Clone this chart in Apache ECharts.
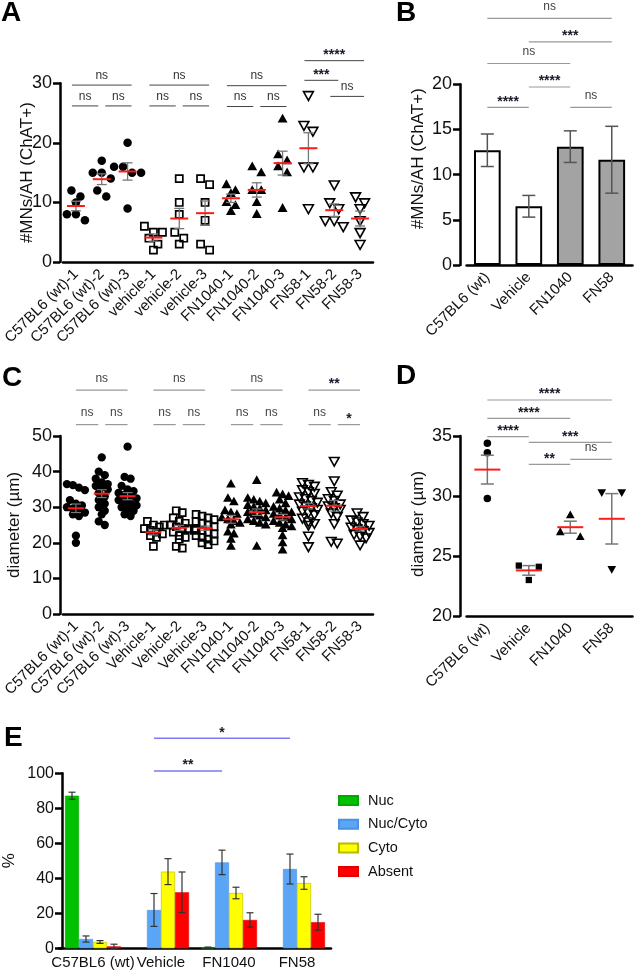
<!DOCTYPE html>
<html><head><meta charset="utf-8">
<script src="https://cdn.jsdelivr.net/npm/echarts@6/dist/echarts.min.js"></script>
<style>html,body{margin:0;padding:0;background:#fff}#c{width:641px;height:975px}</style>
</head><body><div id="c"></div><script>
const FONT = 'Liberation Sans, Arial, Helvetica, sans-serif';

// ---------- Panel A: #MNs/AH per animal ----------
const catA = ['C57BL6 (wt)-1','C57BL6 (wt)-2','C57BL6 (wt)-3','vehicle-1','vehicle-2','vehicle-3','FN1040-1','FN1040-2','FN1040-3','FN58-1','FN58-2','FN58-3'];
const ptsA = [
  [12,11,10,8,8,7],
  [17,15,15,14,12,11],
  [20,16,16,15,15,9],
  [6,5,5,4,3,2],
  [14,10,8,5,4,3],
  [14,13,10,7,3,2],
  [13,12,11.5,10,9.5,8.5],
  [16,15,12,12,10,8],
  [24,18,17,16,15,9],
  [28,23,22,16,16,9],
  [13,10,9,7,7,6],
  [11,10,9,7,5,3]
];
const meanA = [9.4,13.9,15.2,4.1,7.3,8.2,10.7,12.1,16.6,19.1,8.7,7.3];
const semA  = [0.8,0.9,1.45,0.6,1.7,2.05,0.7,1.2,2.0,2.6,1.05,1.25];
const sigA = [
  [0,2,29.7,'ns'],[0,1,26.2,'ns'],[1,2,26.2,'ns'],
  [3,5,29.7,'ns'],[3,4,26.2,'ns'],[4,5,26.2,'ns'],
  [6,8,29.6,'ns'],[6,7,26.1,'ns'],[7,8,26.1,'ns'],
  [9,11,33.8,'****'],[9,10,30.5,'***'],[10,11,27.8,'ns']
];

// ---------- Panel B: #MNs/AH per group ----------
const catB = ['C57BL6 (wt)','Vehicle','FN1040','FN58'];
const valB = [12.7,6.5,13.1,11.65];
const errB = [1.8,1.2,1.75,3.7];
const sigB = [
  [0,3,27.3,'ns'],[1,3,24.7,'***'],[0,2,22.3,'ns'],
  [1,2,19.7,'****'],[0,1,17.45,'****'],[2,3,17.45,'ns']
];

// ---------- Panel C: diameter per animal ----------
const catC = ['C57BL6 (wt)-1','C57BL6 (wt)-2','C57BL6 (wt)-3','Vehicle-1','Vehicle-2','Vehicle-3','FN1040-1','FN1040-2','FN1040-3','FN58-1','FN58-2','FN58-3'];
const ptsC = [
  [36.5,36.2,35.5,34.8,32,31,30.5,30,29.5,29,28.5,28,27.5,22,20],
  [44,40,39,38,37,36.5,36,35.5,35,34,33,32,31,30,29,28,26,25],
  [47,38.5,38,36,35,34.5,34,33.5,33,32.5,32,31.5,31,30.5,30,29.5,29,28,27.5],
  [26,25,24.5,24,23.5,23,22.5,22,21.5,19],
  [29,28.5,27,26,25.5,25,25,24.5,24,24,23.5,23,22,21.5,21,19,18.5],
  [28,27.5,27,26.5,26,25.5,25,24.5,24,23.5,23,22.5,22,21.5,21,20.5,20,19.5],
  [36.5,32.5,31.5,29,28.5,28,27,26.5,26,25.5,25,23,22.5,21,19],
  [37.5,32.5,32,31.5,31,30.5,30,29.5,29,28.5,28,27.5,27,26.5,26,25.5,25,19],
  [34,33.5,33,32,31,30,29.5,29,28.5,28,27.5,27,26.5,26,25.5,25,24.5,24,22,20,18],
  [37,36.5,36,35,34.5,34,33,32.5,32,31.5,31,30.5,30,29.5,29,28.5,28,27,26,25.5,25,22,19],
  [43,37.5,34.5,33.5,32.5,32,31,30.5,30,29.5,28.5,27.5,25.5,20.5,20],
  [28.5,27.5,26.5,26,25.5,25,24.5,24,23.5,23,22.5,22,21.5,19.5]
];
const meanC = [29.7,33.8,33.1,22.9,24.2,24.1,26.6,28.6,27.2,30.3,30.4,23.9];
const semC  = [1.2,1.1,1.0,0.7,0.7,0.6,1.1,0.9,0.8,0.8,1.5,0.6];
const sigC = [
  [0,2,62.9,'ns'],[0,1,53.2,'ns'],[1,2,53.2,'ns'],
  [3,5,62.9,'ns'],[3,4,53.2,'ns'],[4,5,53.2,'ns'],
  [6,8,62.9,'ns'],[6,7,53.2,'ns'],[7,8,53.2,'ns'],
  [9,11,62.9,'**'],[9,10,53.2,'ns'],[10,11,53.2,'*']
];

// ---------- Panel D: diameter per group ----------
const catD = ['C57BL6 (wt)','Vehicle','FN1040','FN58'];
const ptsD = [[34.4,33.6,29.8],[24.2,24.1,23.0],[28.4,27.0,26.6],[30.3,30.3,23.9]];
const meanD = [32.2,23.8,27.4,28.1];
const semD  = [1.2,0.4,0.5,2.1];
const sigD = [
  [0,3,38.0,'****'],[0,2,36.47,'****'],[0,1,34.94,'****'],
  [1,3,34.47,'***'],[2,3,33.06,'ns'],[1,2,32.64,'**']
];

// ---------- Panel E: localisation (%) ----------
const catE = ['C57BL6 (wt)','Vehicle','FN1040','FN58'];
const namesE = ['Nuc','Nuc/Cyto','Cyto','Absent'];
const nucE      = [87.2,0,0.4,0];
const nucCytoE  = [5.3,21.9,49.1,45.3];
const cytoE     = [3.6,43.8,31.6,37.3];
const absentE   = [1.1,32.0,16.2,14.9];
const errNucE     = [2.0,0,0.3,0];
const errNucCytoE = [1.75,9.4,7.0,8.55];
const errCytoE    = [0.8,7.4,3.3,3.6];
const errAbsentE  = [1.25,11.6,4.1,4.55];
const sigE = [[1,2,101.3,'**'],[1,3,120,'*']];

// ================= helpers =================
const BAR_W_E = 14;
function rowOffsets(vals, ppu, rowH, sp) {
  const idx = vals.map((v, i) => i).sort((a, b) => vals[b] - vals[a]);
  const off = new Array(vals.length).fill(0);
  let row = [];
  const flush = () => { row.forEach((i, j) => { off[i] = (j - (row.length - 1) / 2) * sp; }); row = []; };
  idx.forEach(i => {
    if (row.length && (vals[row[0]] - vals[i]) * ppu >= rowH) flush();
    row.push(i);
  });
  flush();
  return off;
}
function shapeEl(shape, cx, cy, o) {
  const s = o.size;
  if (shape === 'circle') return {type:'circle', shape:{cx, cy, r:s/2}, style:{fill:'#000'}};
  if (shape === 'square') {
    const h = s * 0.42;
    return {type:'rect', shape:{x:cx-h, y:cy-h, width:2*h, height:2*h},
      style:o.hollow ? {fill:'rgba(0,0,0,0)', stroke:'#000', lineWidth:1.7} : {fill:'#000'}};
  }
  if (shape === 'up') return {type:'polygon', shape:{points:[[cx,cy-s*0.62],[cx-s*0.58,cy+s*0.42],[cx+s*0.58,cy+s*0.42]]}, style:{fill:'#000'}};
  return {type:'polygon', shape:{points:[[cx,cy+s*0.62],[cx-s*0.58,cy-s*0.42],[cx+s*0.58,cy-s*0.42]]},
    style:o.hollow ? {fill:'rgba(0,0,0,0)', stroke:'#000', lineWidth:1.6, lineJoin:'miter'} : {fill:'#000'}};
}
function swarmSeries(gi, groups, shapes, o) {
  const data = [];
  groups.forEach((vals, g) => vals.forEach((v, k) => data.push([g, v, k])));
  const cache = {};
  return {
    type:'custom', xAxisIndex:gi, yAxisIndex:gi, z:3, silent:true, data, encode:{x:0, y:1},
    renderItem(params, api) {
      const g = api.value(0), v = api.value(1), k = api.value(2);
      const ppu = Math.abs(api.size([0, 1])[1]);
      if (!cache[g]) cache[g] = rowOffsets(groups[g], ppu, o.rowH, o.spacing);
      const p = api.coord([g, v]);
      return shapeEl(shapes[g], p[0] + cache[g][k], p[1], o);
    }
  };
}
function meanSeries(gi, means, sems, o) {
  return {
    type:'custom', xAxisIndex:gi, yAxisIndex:gi, z:5, silent:true,
    data: means.map((m, g) => [g, m, sems[g]]), encode:{x:0, y:1},
    renderItem(params, api) {
      const g = api.value(0), m = api.value(1), s = api.value(2);
      const p = api.coord([g, m]);
      const t = api.coord([g, m + s])[1], b = api.coord([g, m - s])[1];
      const es = {stroke:o.errColor, lineWidth:o.errW};
      const ch = [
        {type:'line', shape:{x1:p[0], y1:t, x2:p[0], y2:b}, style:es},
        {type:'line', shape:{x1:p[0]-o.cap, y1:t, x2:p[0]+o.cap, y2:t}, style:es},
        {type:'line', shape:{x1:p[0]-o.cap, y1:b, x2:p[0]+o.cap, y2:b}, style:es}
      ];
      if (o.half) ch.push({type:'line', shape:{x1:p[0]-o.half, y1:p[1], x2:p[0]+o.half, y2:p[1]}, style:{stroke:'#ff1a1a', lineWidth:o.meanW}});
      return {type:'group', children:ch};
    }
  };
}
function bracketSeries(gi, list, o) {
  return {
    type:'custom', xAxisIndex:gi, yAxisIndex:gi, z:4, silent:true,
    data: list.map(b => [b[0], b[1], b[2]]), encode:{x:[0,1], y:2},
    renderItem(params, api) {
      const b = list[params.dataIndex];
      const p1 = api.coord([b[0], b[2]]), p2 = api.coord([b[1], b[2]]);
      let x1 = p1[0] - o.ext, x2 = p2[0] + o.ext;
      list.forEach(q => {
        if (q === b || Math.abs(q[2] - b[2]) > 1e-9) return;
        if (q[1] === b[0]) x1 = p1[0] + o.gap;
        if (q[0] === b[1]) x2 = p2[0] - o.gap;
      });
      x1 += o.dx || 0; x2 += o.dx || 0;
      const y = p1[1];
      const star = b[3].indexOf('*') >= 0;
      return {type:'group', children:[
        {type:'line', shape:{x1, y1:y, x2, y2:y}, style:{stroke:o.color, lineWidth:o.lw}},
        {type:'text', x:(x1 + x2) / 2, y: y + (star ? o.starDy : o.nsDy),
          style:{text:b[3], fill:star ? '#1a1a2a' : o.textColor,
            font:(star ? 'bold 14px ' : '12px ') + FONT, align:'center', verticalAlign:'bottom'}}
      ]};
    }
  };
}
function catAxis(gi, data, rot, fs, margin) {
  return {type:'category', gridIndex:gi, data, boundaryGap:true,
    axisLine:{onZero:false, lineStyle:{color:'#000', width:2.5}},
    axisTick:{alignWithLabel:true, length:7, lineStyle:{color:'#000', width:2.5}},
    axisLabel:{rotate:rot, fontSize:fs, color:'#111', fontFamily:FONT, margin:margin, interval:0},
    splitLine:{show:false}};
}
function valAxis(gi, min, max, interval, name, gap, offset, fs, pad) {
  return {type:'value', gridIndex:gi, min, max, interval, offset,
    name, nameLocation:'middle', nameGap:gap, nameRotate:90, nameMoveOverlap:false,
    nameTextStyle:{fontSize:17, color:'#111', fontFamily:FONT, padding:pad || 0},
    axisLine:{show:true, lineStyle:{color:'#000', width:2.5}},
    axisTick:{show:true, length:7, lineStyle:{color:'#000', width:2.5}},
    axisLabel:{fontSize:fs, color:'#111', fontFamily:FONT, margin:8},
    splitLine:{show:false}};
}
const gridBase = {containLabel:false, outerBoundsMode:'none'};

const shapes12 = ['circle','circle','circle','square','square','square','up','up','up','down','down','down'];
const shapes4 = ['circle','square','up','down'];

const colorsE = ['#00c000','#5aa5f5','#ffff00','#ff0000'];
const bordersE = ['#00a800','#4a92e0','#b9b900','#e00000'];
const valsE = [nucE, nucCytoE, cytoE, absentE];
const errsE = [errNucE, errNucCytoE, errCytoE, errAbsentE];
const fillB = ['#ffffff','#ffffff','#a3a3a3','#a3a3a3'];

const errDataE = [];
valsE.forEach((arr, s) => arr.forEach((v, c) => { if (errsE[s][c] > 0) errDataE.push([c, s, v, errsE[s][c]]); }));

const option = {
  animation:false,
  backgroundColor:'#fff',
  textStyle:{fontFamily:FONT},
  grid:[
    Object.assign({left:63, top:83.3, width:310, height:178.7}, gridBase),
    Object.assign({left:466.6, top:84.3, width:165.9, height:180.7}, gridBase),
    Object.assign({left:63, top:436, width:310, height:178}, gridBase),
    Object.assign({left:466.6, top:436, width:165.9, height:180}, gridBase),
    Object.assign({left:59, top:773.3, width:272, height:175}, gridBase)
  ],
  xAxis:[
    catAxis(0, catA, 45, 15, 10),
    catAxis(1, catB, 45, 15, 10),
    catAxis(2, catC, 45, 15, 10),
    catAxis(3, catD, 45, 15, 10),
    catAxis(4, catE, 0, 15, 7)
  ],
  yAxis:[
    valAxis(0, 0, 30, 10, '#MNs/AH (ChAT+)', 24, 3, 18),
    valAxis(1, 0, 20, 5, '#MNs/AH (ChAT+)', 33, 6.6, 18, [0,0,0,32]),
    valAxis(2, 0, 50, 10, 'diameter (µm)', 37, 3, 18),
    valAxis(3, 20, 35, 5, 'diameter (µm)', 33, 6.6, 18, [0,0,0,4]),
    valAxis(4, 0, 100, 20, '%', 44, -3, 16)
  ],
  legend:{data:namesE, orient:'vertical', left:333, top:788, itemWidth:19, itemHeight:9, itemGap:8.7,
    icon:'rect', selectedMode:false,
    textStyle:{fontSize:14.5, color:'#111', fontFamily:FONT, padding:[0,0,0,5]}},
  graphic:[
    {type:'text', left:1, top:-1, style:{text:'A', font:'bold 28px ' + FONT, fill:'#000'}},
    {type:'text', left:396, top:-1, style:{text:'B', font:'bold 28px ' + FONT, fill:'#000'}},
    {type:'text', left:2, top:364, style:{text:'C', font:'bold 28px ' + FONT, fill:'#000'}},
    {type:'text', left:396, top:362, style:{text:'D', font:'bold 28px ' + FONT, fill:'#000'}},
    {type:'text', left:4, top:724, style:{text:'E', font:'bold 28px ' + FONT, fill:'#000'}}
  ],
  series:[
    // A
    swarmSeries(0, ptsA, shapes12, {size:8.5, rowH:6.5, spacing:9, hollow:true}),
    meanSeries(0, meanA, semA, {errColor:'#777', errW:1.3, cap:5, half:9, meanW:2}),
    bracketSeries(0, sigA, {ext:4, gap:3.5, color:'#444', lw:1, textColor:'#333', nsDy:-3.5, starDy:1.5}),
    // B
    {type:'bar', xAxisIndex:1, yAxisIndex:1, barWidth:26.7, z:2, silent:true,
      data: valB.map((v, i) => ({value:v, itemStyle:{color:fillB[i], borderColor:'#000', borderWidth:2}}))},
    meanSeries(1, valB, errB, {errColor:'#555', errW:1.5, cap:6.5, half:0}),
    bracketSeries(1, sigB, {ext:0, gap:3.5, color:'#999', lw:1.2, textColor:'#444', nsDy:-5.5, starDy:1.5}),
    // C
    swarmSeries(2, ptsC, shapes12, {size:8.3, rowH:7, spacing:6, hollow:true}),
    meanSeries(2, meanC, semC, {errColor:'#777', errW:1.2, cap:5, half:8, meanW:2}),
    bracketSeries(2, sigC, {ext:0, gap:3.5, color:'#999', lw:1.2, textColor:'#444', nsDy:-5.5, starDy:1.5}),
    // D
    swarmSeries(3, ptsD, shapes4, {size:7.5, rowH:7, spacing:20, hollow:false}),
    meanSeries(3, meanD, semD, {errColor:'#777', errW:1.5, cap:6.5, half:13, meanW:2}),
    bracketSeries(3, sigD, {ext:0, gap:3.5, color:'#999', lw:1.2, textColor:'#444', nsDy:-5.5, starDy:1.5}),
    // E bars
    ...namesE.map((n, s) => ({
      type:'bar', name:n, xAxisIndex:4, yAxisIndex:4, barWidth:BAR_W_E, barGap:'0%', z:2, silent:true,
      itemStyle:{color:colorsE[s], borderColor:bordersE[s], borderWidth:0.6},
      data: valsE[s].map(v => v === 0 ? {value:0, itemStyle:{borderWidth:0, opacity:0}} : v)
    })),
    {type:'custom', xAxisIndex:4, yAxisIndex:4, z:4, silent:true, data:errDataE, encode:{x:0, y:2},
      renderItem(params, api) {
        const c = api.value(0), s = api.value(1), v = api.value(2), e = api.value(3);
        const x = api.coord([c, v])[0] + (s - 1.5) * BAR_W_E;
        const t = api.coord([c, v + e])[1], b = api.coord([c, Math.max(0, v - e)])[1];
        const st = {stroke:'#333', lineWidth:1.2};
        return {type:'group', children:[
          {type:'line', shape:{x1:x, y1:t, x2:x, y2:b}, style:st},
          {type:'line', shape:{x1:x-3.5, y1:t, x2:x+3.5, y2:t}, style:st},
          {type:'line', shape:{x1:x-3.5, y1:b, x2:x+3.5, y2:b}, style:st}
        ]};
      }},
    bracketSeries(4, sigE, {ext:0, gap:0, dx:-0.5 * BAR_W_E, color:'#7b7bf0', lw:1.4, textColor:'#333', nsDy:-5.5, starDy:1.5})
  ]
};
const chart = echarts.init(document.getElementById('c'), null, {renderer:'canvas'});
chart.setOption(option);
</script></body></html>
